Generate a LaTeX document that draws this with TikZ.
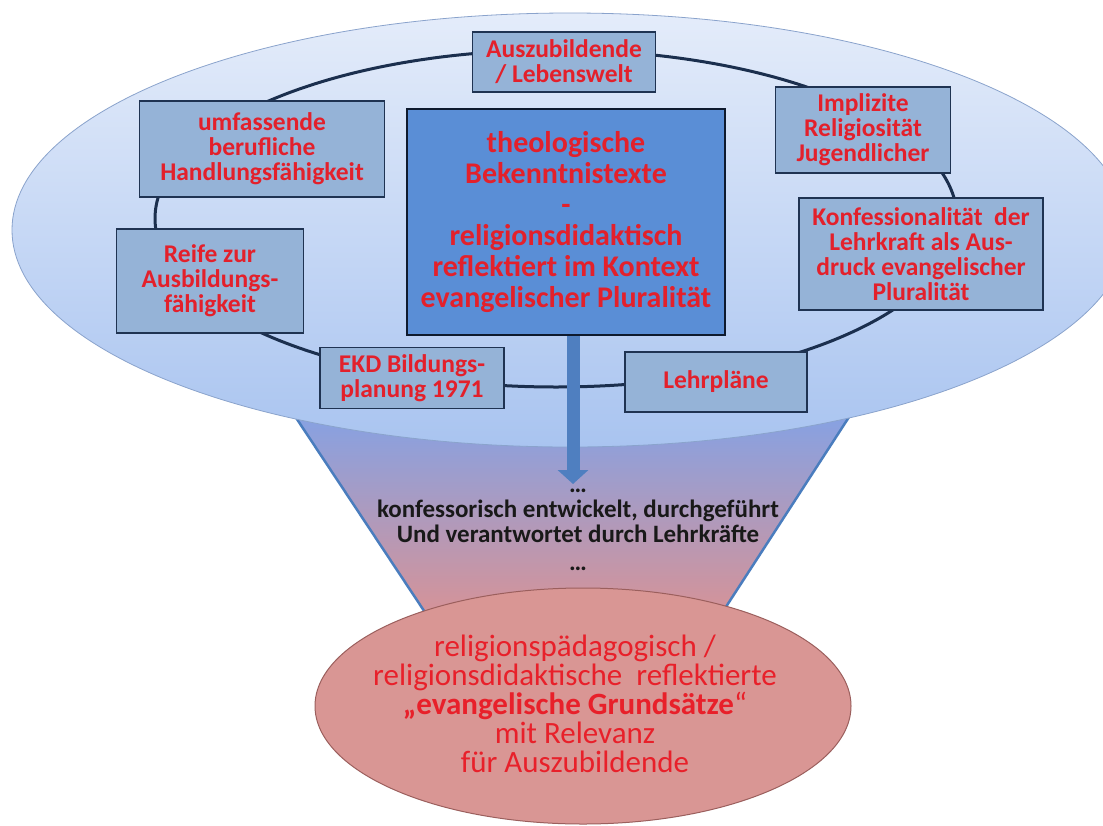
\documentclass[tikz,border=0pt]{standalone}
\usepackage{fontspec}
\setmainfont{Carlito}
\usetikzlibrary{arrows.meta,positioning}
\definecolor{ringtop}{HTML}{E4ECFA}
\definecolor{ringbottom}{HTML}{A9C4F0}
\definecolor{ringedge}{HTML}{8AA3CC}
\definecolor{ringline}{HTML}{1B2F4E}
\definecolor{boxblue}{HTML}{95B3D7}
\definecolor{boxline}{HTML}{1F3352}
\definecolor{coreblue}{HTML}{5A8ED6}
\definecolor{coreline}{HTML}{0E1A2E}
\definecolor{textred}{HTML}{E3202B}
\definecolor{arrowblue}{HTML}{4F7FC0}
\definecolor{funneltop}{HTML}{78A4F0}
\definecolor{funnelmid}{HTML}{A6ADD6}
\definecolor{funnelbottom}{HTML}{E4908A}
\definecolor{funnelline}{HTML}{4A7DBE}
\definecolor{goalfill}{HTML}{D99694}
\definecolor{goalline}{HTML}{9B5F5D}
\definecolor{goalred}{HTML}{E8202A}

\begin{document}
\begin{tikzpicture}[x=1pt,y=-1pt,
    infobox/.style={draw=boxline,line width=1.4pt,fill=boxblue,text=textred,
      font=\bfseries\fontsize{25.5}{25}\selectfont,align=center,inner sep=0pt},
    corebox/.style={draw=coreline,line width=2.6pt,fill=coreblue,text=textred,
      font=\bfseries\fontsize{30}{31}\selectfont,align=center,inner sep=0pt},
    midnote/.style={text=black!90,font=\bfseries\fontsize{25}{25}\selectfont,align=center},
    goal/.style={text=goalred,font=\fontsize{31}{29}\selectfont,align=center,inner sep=0pt}]
  \clip (0,0) rectangle (1103,825);
  \fill[white] (0,0) rectangle (1103,825);
  % funnel behind the ring
  \draw[draw=funnelline,line width=2.5pt,top color=funneltop,middle color=funnelmid,bottom color=funnelbottom]
    (271,380) -- (873,380) -- (698,650) -- (450,650) -- cycle;
  % ring
  \draw[draw=ringedge,line width=0.8pt,top color=ringtop,bottom color=ringbottom]
    (570,230) ellipse [x radius=558, y radius=217];
  \draw[ringline,line width=3pt] (556,218.5) ellipse [x radius=401, y radius=168.5];

  \node[infobox,minimum width=183pt,minimum height=60pt] (lebenswelt) at (564,62) {Auszubildende\\/ Lebenswelt};
  \node[infobox,minimum width=245pt,minimum height=96pt] (handlung) at (262,149) {umfassende\\berufliche\\Handlungsfähigkeit};
  \node[infobox,minimum width=187pt,minimum height=104pt] (reife) at (210,281) {Reife zur\\Ausbildungs-\\fähigkeit};
  \node[infobox,minimum width=184pt,minimum height=61pt] (ekd) at (412,378) {EKD Bildungs-\\planung 1971};
  \node[infobox,minimum width=175pt,minimum height=86pt] (implizit) at (863,130) {Implizite\\Religiosität\\Jugendlicher};
  \node[infobox,minimum width=244pt,minimum height=112pt] (konfession) at (921,254) {Konfessionalität\ \ der\\Lehrkraft als Aus-\\druck evangelischer\\Pluralität};
  \node[infobox,minimum width=182pt,minimum height=60pt] (lehrplan) at (716,382) {Lehrpläne};
  \node[corebox,minimum width=318pt,minimum height=226pt] (core) at (566,222)
    {theologische\\Bekenntnistexte\\-\\religionsdidaktisch\\reflektiert im Kontext\\evangelischer Pluralität};

  \coordinate (tip) at (573,484);
  \draw[-{Triangle[width=30pt,length=14pt]},line width=13pt,arrowblue] (core.south -| tip) -- (tip);

  \node[midnote] (process) at (578,530) {…\\konfessorisch entwickelt, durchgeführt\\Und verantwortet durch Lehrkräfte\\[3pt]…};

  % result
  \draw[draw=goalline,line width=1pt,fill=goalfill] (583,706) ellipse [x radius=268, y radius=118];
  \node[goal] (goal) at (575,704)
    {religionspädagogisch /\\religionsdidaktische\ \ reflektierte\\\textbf{„evangelische Grundsätze}“\\mit Relevanz\\für Auszubildende};
\end{tikzpicture}
\end{document}
